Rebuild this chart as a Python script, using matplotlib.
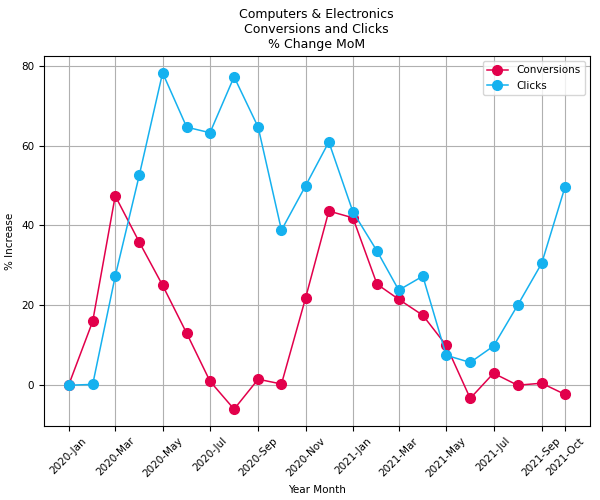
import pandas as pd
import matplotlib
matplotlib.use("Agg")
import matplotlib.pyplot as plt
import matplotlib.dates as mdates

months = pd.date_range("2020-01-01", "2021-10-01", freq="MS")

conversions = [0, 16, 47.4, 35.8, 25, 13, 1, -6, 1.5, 0.3, 21.8, 43.6,
               41.9, 25.3, 21.5, 17.5, 10, -3.3, 3, 0, 0.5, -2.3]
clicks = [0, 0.2, 27.3, 52.6, 78.2, 64.6, 63.2, 77.2, 64.6, 38.8, 49.9, 60.9,
          43.4, 33.6, 23.8, 27.3, 7.5, 5.7, 9.8, 20, 30.5, 49.6]

tick_dates = pd.to_datetime(["2020-01-01", "2020-03-01", "2020-05-01",
                             "2020-07-01", "2020-09-01", "2020-11-01",
                             "2021-01-01", "2021-03-01", "2021-05-01",
                             "2021-07-01", "2021-09-01", "2021-10-01"])

plt.rcParams['font.size'] = 7.5

fig, ax = plt.subplots(figsize=(6, 5), dpi=100)
fig.subplots_adjust(left=0.073, right=0.983, top=0.888, bottom=0.148)

ax.plot(months, conversions, 'o-', color='#E2004B', markersize=7,
        linewidth=1.1, label='Conversions')
ax.plot(months, clicks, 'o-', color='#15B1EF', markersize=7,
        linewidth=1.1, label='Clicks')

ax.set_xticks(tick_dates)
ax.xaxis.set_major_formatter(mdates.DateFormatter('%Y-%b'))
plt.setp(ax.get_xticklabels(), rotation=45)
ax.set_yticks([0, 20, 40, 60, 80])

ax.grid(True, color='#b0b0b0')
ax.set_title('Computers & Electronics\nConversions and Clicks\n% Change MoM',
             fontsize=9)
ax.set_xlabel('Year Month')
ax.set_ylabel('% Increase')
ax.legend(loc='upper right')

fig.savefig('out.png', dpi=100)
